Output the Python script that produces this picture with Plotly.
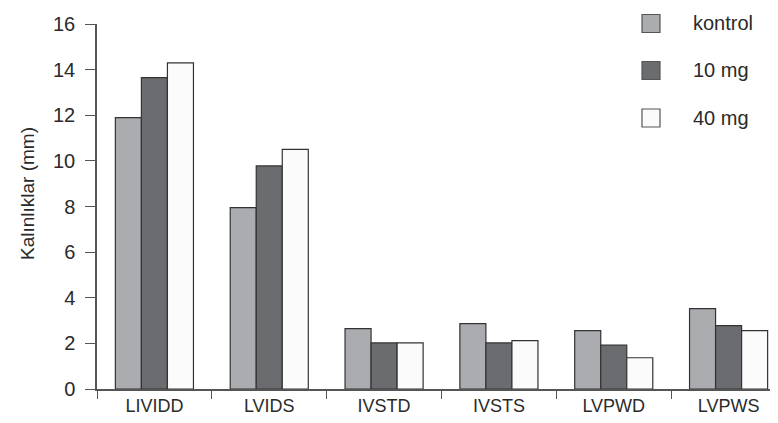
import plotly.graph_objects as go

categories = ["LIVIDD", "LVIDS", "IVSTD", "IVSTS", "LVPWD", "LVPWS"]
series_names = ["kontrol", "10 mg", "40 mg"]
kontrol = [11.9, 7.95, 2.65, 2.87, 2.56, 3.52]
mg10 = [13.65, 9.78, 2.02, 2.02, 1.92, 2.78]
mg40 = [14.3, 10.5, 2.02, 2.12, 1.37, 2.56]
y_ticks = [0, 2, 4, 6, 8, 10, 12, 14, 16]
y_title = "Kalınlıklar (mm)"

series_values = [kontrol, mg10, mg40]
colors = ["#abacb0", "#6b6c70", "#fbfbfb"]
FONT = "Liberation Sans"
TXT = "#2a2a2a"

# plot area in page pixels: x 89..778, y 16..381
PL, PW, PT, PH = 89, 689, 16, 365


def px(x):
    return (x - PL) / PW


def py(y):
    return (PT + PH - y) / PH


fig = go.Figure()
for name, vals, col in zip(series_names, series_values, colors):
    fig.add_trace(go.Bar(
        x=categories, y=vals, name=name,
        marker=dict(color=col, line=dict(color="#333333", width=1.2)),
        showlegend=False,
    ))

# manual legend (larger swatches than plotly's built-in)
legend_y = [15.5, 62.5, 110]
for name, col, yc in zip(series_names, colors, legend_y):
    fig.add_shape(type="rect", xref="paper", yref="paper",
                  x0=px(634), x1=px(652), y0=py(yc + 9), y1=py(yc - 9),
                  fillcolor=col, line=dict(color="#555555", width=1.2))
    fig.add_annotation(text=name, xref="paper", yref="paper",
                       x=px(683), y=py(yc), xanchor="left", yanchor="middle",
                       showarrow=False, font=dict(family=FONT, size=20, color=TXT))

# y-axis title (placed slightly above center as in the reference)
fig.add_annotation(text=y_title, xref="paper", yref="paper", x=px(19), y=py(186),
                   textangle=-90, xanchor="center", yanchor="middle", showarrow=False,
                   font=dict(family=FONT, size=19, color=TXT))

fig.update_layout(
    width=778, height=423,
    margin=dict(l=PL, r=0, t=PT, b=423 - PT - PH),
    paper_bgcolor="white", plot_bgcolor="white",
    barmode="group", bargap=0.32, bargroupgap=0,
    font=dict(family=FONT, size=18, color=TXT),
    xaxis=dict(
        type="category", showline=True, linecolor="#555555", linewidth=1.5,
        ticks="outside", tickson="boundaries", ticklen=8, tickcolor="#555555",
        tickwidth=1.2, showgrid=False, zeroline=False, automargin=False,
        tickfont=dict(family=FONT, size=18, color=TXT),
    ),
    yaxis=dict(
        range=[0, 16], tickvals=y_ticks, showline=True, linecolor="#555555",
        linewidth=1.5, ticks="outside", ticklen=10, tickcolor="#555555",
        tickwidth=1.2, showgrid=False, zeroline=False, automargin=False,
        tickfont=dict(family=FONT, size=20, color=TXT),
        ticklabelstandoff=6,
    ),
)

fig.write_html("out.html")
